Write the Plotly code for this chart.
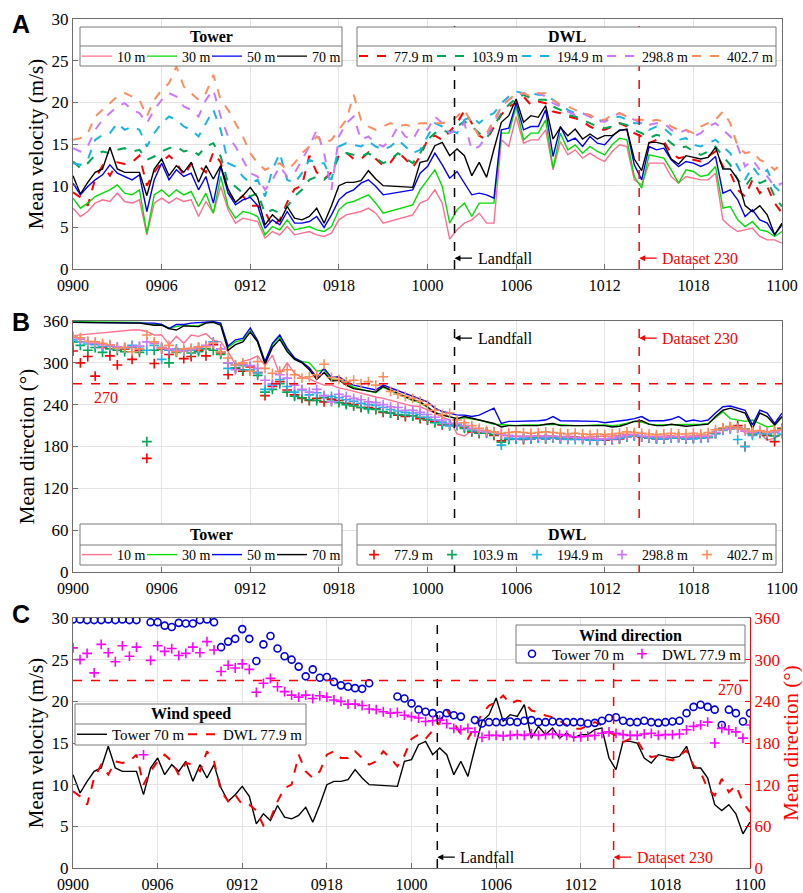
import plotly.graph_objects as go

SERIF = "Liberation Serif, Times New Roman, serif"
SANS = "Liberation Sans, Arial, sans-serif"
W, H = 803, 893

# Time axis: hours after 09 00:00, one value every 30 min (09 00:00 .. 11 00:00)
HOURS = [i * 0.5 for i in range(97)]
TICK_POS = [0, 6, 12, 18, 24, 30, 36, 42, 48]
TICK_TEXT = ["0900", "0906", "0912", "0918", "1000", "1006", "1012", "1018", "1100"]
LANDFALL_H = 25.83        # landfall time
DATASET_230_H = 38.33     # 10-min dataset no. 230

TOWER_LABELS = ["10 m", "30 m", "50 m", "70 m"]
DWL_LABELS = ["77.9 m", "103.9 m", "194.9 m", "298.8 m", "402.7 m"]
TOWER_COLORS = ["#ff6f8f", "#00dd00", "#0000ee", "#000000"]
DWL_COLORS = ["#ff0000", "#00a651", "#18b4e4", "#cc77ff", "#ff8c5a"]

# ---------------- mean velocity (m/s) ----------------
SPD_TOWER_10 = [
    7.3, 6.3, 6.9, 7.9, 8.3, 8.1, 9.1, 8.1, 7.9, 8.3, 4.1, 7.9,
    8.5, 7.9, 8.5, 8.1, 8.3, 6.3, 8.1, 6.7, 9.9, 7.1, 5.5, 6.1,
    5.9, 5.7, 3.7, 4.5, 4.1, 5.1, 4.1, 4.3, 4.5, 4.1, 3.9, 4.3,
    5.9, 6.5, 6.7, 6.9, 7.3, 6.7, 5.5, None, None, None, 6.5, 7.9,
    8.3, 9.5, 7.9, 3.6, 4.7, 5.5, 5.9, 6.7, 5.5, 5.5, 15.5, 14.7,
    18.3, 15.1, 15.5, 15.5, 16.7, 11.9, 15.3, 13.7, 14.3, 13.3, 13.9, 13.3,
    12.9, 14.1, 14.9, 14.7, 10.7, 10.1, 12.7, 12.7, 12.7, 11.1, 10.3, 11.1,
    10.9, 10.7, 10.7, 11.5, 5.9, 5.1, 4.5, 4.7, 4.9, 3.9, 3.5, 3.5, 3.1]
SPD_TOWER_30 = [
    8.5, 7.3, 7.9, 8.7, 9.1, 9.5, 10.1, 9.1, 8.9, 9.5, 4.3, 8.9,
    9.5, 8.7, 9.5, 8.9, 9.3, 7.5, 9.1, 6.7, 11.1, 7.5, 6.1, 6.9,
    6.7, 6.3, 4.1, 5.1, 4.7, 5.9, 4.7, 4.9, 5.1, 4.7, 4.5, 5.1,
    7.1, 7.9, 8.1, 8.5, 8.9, 7.9, 6.7, None, None, None, 7.7, 9.5,
    10.7, 11.9, 9.9, 5.5, 7.1, 7.9, 6.3, 7.9, 7.9, 7.9, 16.3, 16.3,
    19.5, 15.5, 16.3, 16.3, 17.9, 12.1, 16.3, 14.3, 14.9, 13.9, 14.7, 14.1,
    13.7, 14.9, 15.7, 15.5, 11.1, 9.7, 13.7, 13.5, 13.3, 11.9, 10.3, 11.9,
    11.7, 11.1, 11.3, 12.3, 7.3, 7.5, 5.9, 5.1, 5.7, 4.7, 4.5, 3.9, 4.5]
SPD_TOWER_50 = [
    10.3, 8.9, 9.9, 10.7, 11.3, 12.5, 11.5, 11.1, 10.7, 11.3, 6.9, 10.7,
    12.7, 10.7, 11.9, 11.1, 11.5, 9.5, 11.1, 7.9, 12.3, 9.1, 7.7, 8.3,
    8.6, 7.6, 4.9, 5.9, 5.3, 6.9, 5.5, 5.5, 5.7, 6.3, 5.0, 6.5,
    8.3, 9.1, 9.5, 10.3, 10.7, 9.9, 8.9, None, None, None, 9.5, 11.5,
    12.3, 13.9, 12.5, 10.9, 11.7, 10.3, 8.9, 9.1, 8.9, 8.5, 16.7, 16.9,
    19.9, 16.7, 17.1, 17.1, 19.1, 13.5, 17.1, 15.3, 15.7, 14.7, 15.9, 15.1,
    14.9, 15.9, 16.7, 16.7, 12.5, 10.7, 14.7, 14.3, 14.5, 13.1, 12.3, 12.9,
    12.7, 12.3, 12.7, 13.5, 9.1, 9.5, 8.3, 6.3, 7.1, 5.9, 5.5, 4.1, 5.3]
SPD_TOWER_70 = [
    11.2, 9.0, 10.4, 11.6, 12.0, 14.6, 12.0, 11.6, 11.6, 11.6, 8.8, 12.0,
    13.2, 11.2, 12.4, 11.6, 12.8, 10.4, 12.4, 10.8, 12.4, 9.6, 8.0, 8.8,
    9.8, 8.6, 5.3, 6.5, 5.7, 7.5, 6.1, 5.9, 6.3, 7.3, 5.5, 7.6,
    10.0, 10.4, 10.4, 10.6, 11.8, 10.8, 10.0, None, None, None, 9.8, 12.8,
    13.0, 14.8, 15.2, 13.6, 14.4, 13.6, 11.2, 12.8, 11.0, 14.4, 17.6, 18.4,
    20.4, 17.6, 18.4, 18.2, 19.6, 15.6, 17.0, 16.0, 16.8, 15.6, 16.2, 15.6,
    16.0, 16.0, 16.6, 16.8, 13.2, 11.8, 15.2, 15.2, 15.0, 13.2, 12.6, 13.6,
    13.4, 13.2, 13.4, 14.6, 12.0, 12.0, 10.8, 7.6, 6.9, 7.6, 6.5, 4.1, 5.5]

SPD_DWL_78 = [
    9.2, 8.6, 7.6, 10.8, 12.4, 11.2, 12.8, 12.6, 12.8, 13.6, 10.0, 11.6,
    12.8, 13.6, 12.8, 11.2, 12.6, 12.4, 11.6, 14.0, 12.8, 9.2, 8.0, 8.8,
    7.6, 7.6, 6.9, 5.1, 5.9, 8.0, 9.6, 10.0, 13.6, 11.6, 10.8, 11.6,
    13.6, 14.0, 13.2, 13.2, 14.0, 13.2, 12.4, 12.8, 14.0, 13.2, 12.2, 13.5,
    15.5, 16.0, 15.5, 16.5, 17.5, 19.0, 17.5, 16.0, 15.5, 17.0, 18.5, 19.5,
    19.9, 20.7, 19.7, 20.1, 19.9, 18.9, 18.7, 18.3, 18.1, 17.7, 17.1, 16.7,
    16.7, 17.1, 17.5, 17.1, 16.3, 15.9, 15.1, 15.5, 15.3, 13.9, 13.3, 13.5,
    13.1, 12.9, 13.5, 14.1, 12.3, 11.5, 9.5, 8.7, 10.7, 9.1, 9.9, 7.9, 6.7]
SPD_DWL_104 = [
    12.9, 12.1, 12.7, 13.7, 14.1, 13.9, 14.3, 14.5, 14.1, 14.3, 13.1, 13.5,
    14.1, 14.5, 14.7, 14.1, 14.3, 13.7, 14.7, 15.1, 13.5, 10.3, 9.9, 9.1,
    8.7, 9.1, 6.7, 7.1, 6.7, 7.5, 8.7, 9.5, 10.7, 11.1, 10.7, 11.5,
    13.5, 13.9, 13.7, 13.5, 13.9, 13.3, 12.7, 13.1, 13.9, 13.3, 12.7, 13.9,
    15.5, 16.3, 16.7, 16.3, 17.1, 17.7, 17.1, 16.3, 15.7, 17.1, 18.7, 19.7,
    20.5, 20.9, 20.5, 20.3, 20.3, 19.5, 19.1, 18.5, 18.3, 17.9, 17.5, 17.1,
    16.9, 17.1, 17.5, 17.3, 16.7, 16.3, 15.7, 16.1, 15.9, 15.1, 14.5, 14.7,
    14.1, 13.7, 14.1, 14.7, 13.5, 12.5, 10.7, 9.9, 11.1, 10.3, 10.7, 8.7, 7.5]
SPD_DWL_195 = [
    12.7, 12.5, 13.1, 15.5, 16.1, 16.3, 17.5, 16.7, 17.1, 16.7, 14.7, 16.3,
    17.5, 18.3, 17.9, 17.1, 16.7, 15.9, 17.5, 19.1, 16.7, 12.7, 12.3, 11.1,
    10.3, 10.7, 8.7, 11.9, 13.9, 10.7, 10.3, 11.5, 13.1, 12.7, 12.7, 10.7,
    14.7, 15.1, 14.9, 14.7, 15.3, 14.7, 14.3, 14.7, 15.5, 14.7, 13.9, 14.3,
    15.9, 17.5, 17.1, 16.7, 16.3, 17.9, 18.3, 17.5, 18.3, 18.7, 19.9, 20.7,
    21.3, 21.1, 21.1, 20.9, 20.9, 20.3, 19.7, 19.1, 18.7, 18.7, 18.3, 17.9,
    17.7, 18.1, 18.3, 17.9, 17.5, 17.5, 16.7, 17.1, 16.9, 16.1, 15.5, 15.7,
    14.9, 14.7, 15.1, 15.5, 14.7, 13.9, 12.3, 10.7, 12.3, 11.1, 11.9, 9.9, 9.1]
SPD_DWL_299 = [
    14.5, 14.1, 14.7, 16.7, 17.9, 18.7, 19.5, 19.9, 19.1, 18.7, 17.5, 19.1,
    20.3, 21.1, 20.7, 19.5, 19.1, 18.3, 20.3, 21.5, 18.3, 15.9, 14.7, 13.1,
    11.5, 11.1, 9.5, 10.7, 12.3, 11.1, 11.5, 13.1, 14.7, 16.7, 13.9, 9.5,
    15.9, 17.5, 18.3, 15.5, 15.9, 15.1, 14.7, 15.5, 17.1, 15.9, 15.5, 17.1,
    16.7, 18.3, 17.5, 16.3, 16.7, 17.5, 14.3, 14.7, 15.9, 17.5, 19.5, 20.3,
    20.9, 21.1, 20.7, 21.1, 20.7, 19.9, 19.5, 18.9, 18.5, 18.7, 18.3, 17.7,
    17.7, 18.3, 18.7, 18.3, 17.9, 17.5, 17.3, 17.5, 17.5, 16.7, 16.3, 16.7,
    15.9, 16.3, 17.1, 17.5, 16.7, 15.9, 14.7, 12.3, 13.1, 11.9, 11.1, 9.9, 10.3]
SPD_DWL_403 = [
    15.5, 15.7, 16.3, 18.3, 19.1, 19.9, 20.7, 21.1, 20.7, 20.3, 18.3, 20.3,
    21.5, 22.3, 24.3, 21.9, 21.1, 20.3, 21.1, 23.3, 20.3, 19.1, 17.5, 15.9,
    13.9, 12.7, 11.9, 12.3, 12.7, 11.9, 12.7, 13.9, 14.7, 15.9, 15.1, 15.5,
    16.7, 17.9, 20.9, 17.9, 17.1, 16.7, 17.1, 17.5, 17.1, 17.3, 17.1, 17.5,
    17.5, 17.5, 17.5, 17.7, 18.3, 19.1, 17.5, 15.9, 16.3, 17.9, 19.5, 20.3,
    21.1, 21.1, 20.7, 21.1, 21.1, 20.3, 19.7, 19.5, 19.1, 18.7, 18.5, 17.9,
    17.9, 18.5, 18.7, 18.3, 17.9, 17.9, 17.7, 17.9, 17.7, 17.1, 16.7, 16.7,
    16.3, 17.1, 17.5, 17.9, 18.9, 17.5, 14.7, 13.9, 14.1, 13.1, 12.7, 11.9, 12.7]

# ---------------- mean direction (deg) ----------------
DIR_TOWER_10 = [
    339, 340, 342, 343, 344, 345, 346, 346, 347, 347, 345, 340,
    340, 326, 338, 328, 340, 338, 342, 332, 330, 316, 297, 302,
    305, 310, 296, 311, 283, 300, 285, 279, 277, 272, 268, 268,
    264, 262, 259, 256, 254, 251, 249, None, None, None, 238, 237,
    233, 228, 222, 218, 198, 195, 203, 200, None, 201, 196, 195,
    194, 195, 194, 195, 196, 195, 194, 195, 194, 193, 194, 194,
    194, 195, 196, 198, 197, 194, 195, 194, 195, 196, 194, 195,
    195, 196, 197, 204, 206, 208, 207, 200, 196, 199, 189, 192, 198]
DIR_TOWER_30 = [
    359, 359, 358, 358, 358, 358, 358, 358, 358, 358, 356, 355,
    355, 350, 352, 354, 353, 353, 358, 359, 356, 322, 330, 333,
    346, 330, 300, 326, 338, 318, 306, 302, 300, 288, 290, 276,
    276, 270, 265, 262, 260, 257, 265, None, None, None, 246, 243,
    236, 229, 225, 222, 220, 221, 219, 218, None, 212, 211, 210,
    210, 211, 211, 210, 211, 212, 211, 211, 210, 210, 211, 211,
    211, 210, 211, 213, 216, 215, 212, 211, 211, 212, 211, 211,
    211, 212, 213, 222, 230, 220, 218, 216, 218, 213, 208, 210, 222]
DIR_TOWER_50 = [
    358, 358, 358, 358, 358, 358, 358, 358, 358, 358, 357, 357,
    355, 349, 355, 355, 357, 358, 359, 359, 357, 324, 333, 335,
    350, 332, 302, 328, 340, 321, 307, 301, 293, 279, 292, 279,
    280, 273, 268, 266, 263, 261, 268, None, None, None, 252, 249,
    244, 235, 230, 228, 225, 225, 223, 225, None, 235, 213, 216,
    216, 216, 217, 217, 218, 223, 217, 217, 217, 217, 216, 216,
    214, 215, 217, 218, 220, 223, 217, 217, 217, 219, 223, 216,
    218, 216, 218, 228, 237, 238, 235, 232, 211, 232, 228, 213, 228]
DIR_TOWER_70 = [
    358, 358, 357, 357, 357, 358, 357, 358, 357, 357, None, 354,
    354, 349, 347, 353, 352, 352, 357, 358, 354, 318, 326, 330,
    344, 330, 298, 322, 334, 316, 305, 300, 290, 276, 286, 274,
    275, 268, 263, 261, 259, 258, 266, None, None, None, 247, 244,
    237, 228, 225, 223, 220, 223, 220, 218, None, 213, 208, 210,
    210, 210, 211, 210, 212, 213, 210, 210, 211, 210, 210, 210,
    210, 208, 209, 212, 216, 217, 212, 210, 210, 212, 210, 209,
    210, 211, 212, 223, 232, 235, 232, 228, 206, 228, 223, 211, 223]

DIR_DWL_78 = [
    317, 300, 309, 281, 322, 310, 297, 320, 305, 318, 163, 299,
    320, 312, 316, 306, 309, 318, 310, 326, 314, 283, 292, 288,
    294, 286, 253, 266, 273, 261, 254, 249, 246, 249, 244, 248,
    246, 242, 240, 236, 236, 234, 229, 228, 225, 223, 224, 220,
    218, 216, 211, 212, 213, 208, 201, 199, 201, 196, 188, 191,
    191, 190, 191, 192, 191, 193, 191, 192, 193, 192, 191, 189,
    189, 190, 191, 194, 196, 194, 192, 191, 191, 193, 194, 191,
    192, 192, 193, 199, 204, 206, 210, 180, 201, 199, 196, 187, 206]
DIR_DWL_104 = [
    330, 325, 318, 322, 315, 320, 318, 316, 322, 315, 187, 318,
    322, 300, 315, 318, 314, 316, 320, 318, 312, 300, 293, 290,
    288, 282, 258, 262, 270, 258, 252, 250, 247, 246, 250, 245,
    243, 240, 238, 236, 234, 233, 230, 228, 226, 225, 224, 222,
    219, 214, 212, 210, 210, 206, 202, 199, 199, 197, 186, 190,
    191, 191, 192, 193, 192, 193, 192, 192, 193, 191, 191, 190,
    190, 191, 192, 195, 196, 194, 193, 192, 192, 193, 193, 192,
    193, 193, 194, 199, 206, 208, 207, 205, 198, 200, 197, 195, 205]
DIR_DWL_195 = [
    333, 330, 327, 326, 323, 324, 322, 321, 325, 323, 318, 325,
    305, 318, 320, 317, 318, 321, 324, 330, 316, 292, 297, 296,
    290, 286, 262, 268, 276, 266, 258, 261, 254, 257, 253, 252,
    250, 247, 245, 242, 240, 239, 236, 233, 231, 229, 228, 226,
    222, 218, 215, 210, 212, 209, 205, 203, 200, 201, 182, 192,
    191, 192, 191, 192, 191, 192, 191, 190, 190, 190, 189, 189,
    190, 191, 192, 194, 195, 194, 192, 191, 191, 192, 192, 191,
    191, 192, 193, 198, 203, 205, 190, 180, 196, 199, 198, 200, 198]
DIR_DWL_299 = [
    336, 334, 330, 328, 326, 325, 323, 322, 323, 324, 330, 328,
    322, 320, 318, 317, 320, 322, 325, 328, 320, 300, 290, 298,
    296, 292, 275, 270, 283, 278, 268, 262, 258, 262, 253, 244,
    255, 252, 249, 247, 244, 243, 240, 237, 236, 232, 232, 229,
    226, 222, 218, 213, 213, 210, 206, 203, 201, 201, 198, 196,
    195, 194, 195, 195, 194, 195, 194, 193, 193, 192, 192, 191,
    191, 192, 194, 196, 197, 195, 194, 194, 193, 194, 194, 193,
    194, 194, 195, 200, 204, 206, 206, 202, 200, 202, 200, 201, 203]
DIR_DWL_403 = [
    338, 336, 331, 330, 328, 326, 321, 322, 316, 320, 340, 330,
    321, 325, 316, 320, 321, 323, 323, 328, 316, 307, 297, 300,
    288, 302, 292, 285, 288, 290, 283, 278, 280, 283, 298, 279,
    276, 273, 275, 270, 273, 268, 280, 259, 255, 252, 249, 245,
    240, 232, 226, 228, 218, 214, 210, 206, 203, 201, 199, 200,
    201, 200, 199, 200, 201, 200, 199, 198, 199, 198, 197, 198,
    197, 198, 199, 201, 200, 199, 198, 197, 198, 199, 198, 198,
    199, 198, 200, 204, 207, 209, 206, 205, 202, 203, 201, 203, 204]

SPD_TOWER = [SPD_TOWER_10, SPD_TOWER_30, SPD_TOWER_50, SPD_TOWER_70]
SPD_DWL = [SPD_DWL_78, SPD_DWL_104, SPD_DWL_195, SPD_DWL_299, SPD_DWL_403]
DIR_TOWER = [DIR_TOWER_10, DIR_TOWER_30, DIR_TOWER_50, DIR_TOWER_70]
DIR_DWL = [DIR_DWL_78, DIR_DWL_104, DIR_DWL_195, DIR_DWL_299, DIR_DWL_403]


def px(x):
    return x / W


def py(y):
    return 1 - y / H


# Each legend entry gets its own one-item legend so the boxed legends can be laid
# out as a single row: (left edge px, row centre px, font size)
ROW_A, ROW_B, ROW_CS, ROW_CD = 56.5, 555, 734.5, 654
A_TOWER_LEFT = [77, 142, 207, 272]
A_DWL_LEFT = [354, 432, 517, 602, 687]
C_SPEED_LEFT = [72, 183]
C_DIR_LEFT = [512, 622]

legend_layout = {}
_legend_count = [0]


def new_legend(left, row, size):
    _legend_count[0] += 1
    n = _legend_count[0]
    key = "legend" if n == 1 else "legend%d" % n
    legend_layout[key] = dict(orientation="h", x=px(left), y=py(row), xanchor="left",
                              yanchor="middle", bgcolor="rgba(0,0,0,0)", borderwidth=0,
                              itemwidth=30,
                              font=dict(family=SERIF, size=size, color="black"))
    return key


fig = go.Figure()

# ---- Panel A: mean velocity ----
dwl_a_keys = [new_legend(x, ROW_A, 14) for x in A_DWL_LEFT]
tower_a_keys = [new_legend(x, ROW_A, 14) for x in A_TOWER_LEFT]
for vals, name, col, key in zip(SPD_DWL, DWL_LABELS, DWL_COLORS, dwl_a_keys):
    fig.add_trace(go.Scatter(x=HOURS, y=vals, name=name, mode="lines",
                             line=dict(color=col, width=2, dash="dash"),
                             xaxis="x", yaxis="y", legend=key))
for vals, name, col, key in zip(SPD_TOWER, TOWER_LABELS, TOWER_COLORS, tower_a_keys):
    fig.add_trace(go.Scatter(x=HOURS, y=vals, name=name, mode="lines",
                             connectgaps=True, line=dict(color=col, width=1.4),
                             xaxis="x", yaxis="y", legend=key))

# ---- Panel B: mean direction ----
tower_b_keys = [new_legend(x, ROW_B, 14) for x in A_TOWER_LEFT]
dwl_b_keys = [new_legend(x, ROW_B, 14) for x in A_DWL_LEFT]
for vals, name, col, key in zip(DIR_TOWER, TOWER_LABELS, TOWER_COLORS, tower_b_keys):
    fig.add_trace(go.Scatter(x=HOURS, y=vals, name=name, mode="lines",
                             connectgaps=True, line=dict(color=col, width=1.4),
                             xaxis="x2", yaxis="y2", legend=key))
for vals, name, col, key in zip(DIR_DWL, DWL_LABELS, DWL_COLORS, dwl_b_keys):
    fig.add_trace(go.Scatter(x=HOURS, y=vals, name=name, mode="markers",
                             marker=dict(symbol="cross-thin-open", size=7, color=col,
                                         line=dict(color=col, width=1.6)),
                             xaxis="x2", yaxis="y2", legend=key))

# ---- Panel C: 70 m tower vs 77.9 m DWL ----
cs_keys = [new_legend(x, ROW_CS, 15) for x in C_SPEED_LEFT]
cd_keys = [new_legend(x, ROW_CD, 15) for x in C_DIR_LEFT]
fig.add_trace(go.Scatter(x=HOURS, y=SPD_TOWER_70, name="Tower 70 m", mode="lines",
                         connectgaps=True, line=dict(color="black", width=1.4),
                         xaxis="x3", yaxis="y3", legend=cs_keys[0]))
fig.add_trace(go.Scatter(x=HOURS, y=SPD_DWL_78, name="DWL 77.9 m", mode="lines",
                         line=dict(color="#ff0000", width=2, dash="dash"),
                         xaxis="x3", yaxis="y3", legend=cs_keys[1]))
fig.add_trace(go.Scatter(x=HOURS, y=DIR_TOWER_70, name="Tower 70 m", mode="markers",
                         marker=dict(symbol="circle-open", size=7, color="#0000dd",
                                     line=dict(color="#0000dd", width=1.6)),
                         xaxis="x3", yaxis="y4", legend=cd_keys[0]))
fig.add_trace(go.Scatter(x=HOURS, y=DIR_DWL_78, name="DWL 77.9 m", mode="markers",
                         marker=dict(symbol="cross-thin-open", size=7, color="#ff00ff",
                                     line=dict(color="#ff00ff", width=1.6)),
                         xaxis="x3", yaxis="y4", legend=cd_keys[1]))

# ---- axes ----
TICKFONT = dict(family=SERIF, size=17, color="black")
XTICKFONT = dict(family=SERIF, size=16, color="black")
TITLEFONT = dict(family=SERIF, size=21, color="black")


def xaxis(domain, anchor):
    return dict(domain=domain, anchor=anchor, range=[0, 48], tickvals=TICK_POS,
                ticktext=TICK_TEXT, showline=True, linecolor="#6e6e6e", linewidth=1,
                mirror=True, ticks="inside", ticklen=5, tickcolor="#6e6e6e",
                showgrid=True, gridcolor="#e3e3e3", zeroline=False,
                tickfont=XTICKFONT, ticklabelstandoff=2, automargin=False)


def yaxis(domain, anchor, rng, dtick, title, mirror=True):
    return dict(domain=domain, anchor=anchor, range=rng, dtick=dtick, tick0=0,
                showline=True, linecolor="#6e6e6e", linewidth=1, mirror=mirror,
                ticks="inside", ticklen=5, tickcolor="#6e6e6e", showgrid=True,
                gridcolor="#e3e3e3", zeroline=False, tickfont=TICKFONT,
                title=dict(text=title, font=TITLEFONT, standoff=2), automargin=False)


XA = [px(73), px(782)]
XC = [px(73), px(750)]
fig.update_layout(
    xaxis=xaxis(XA, "y"),
    yaxis=yaxis([py(269), py(19)], "x", [0, 30], 5, "Mean velocity (m/s)"),
    xaxis2=xaxis(XA, "y2"),
    yaxis2=yaxis([py(572), py(321)], "x2", [0, 360], 60, "Mean direction (°)"),
    xaxis3=xaxis(XC, "y3"),
    yaxis3=yaxis([py(868), py(618)], "x3", [0, 30], 5, "Mean velocity (m/s)", mirror=False),
    yaxis4=dict(overlaying="y3", side="right", anchor="x3", range=[0, 360], dtick=60,
                tick0=0, showline=True, linecolor="#ff0000", linewidth=1,
                ticks="inside", ticklen=5, tickcolor="#ff0000", showgrid=False,
                zeroline=False, tickfont=dict(family=SERIF, size=17, color="#ff0000"),
                title=dict(text="Mean direction (°)",
                           font=dict(family=SERIF, size=21, color="#ff0000"), standoff=12),
                automargin=False),
)

# ---- event markers ----
shapes = []
annotations = []
for xr, yr in (("x", "y"), ("x2", "y2"), ("x3", "y3")):
    shapes.append(dict(type="line", xref=xr, yref=yr + " domain", x0=LANDFALL_H, x1=LANDFALL_H,
                       y0=0, y1=1, line=dict(color="black", width=1.5, dash="dash")))
    shapes.append(dict(type="line", xref=xr, yref=yr + " domain", x0=DATASET_230_H,
                       x1=DATASET_230_H, y0=0, y1=1,
                       line=dict(color="#ff0000", width=1.5, dash="dash")))
shapes.append(dict(type="line", xref="x2 domain", yref="y2", x0=0, x1=1, y0=270, y1=270,
                   line=dict(color="#ff0000", width=1.5, dash="dash")))
shapes.append(dict(type="line", xref="x3 domain", yref="y4", x0=0, x1=1, y0=270, y1=270,
                   line=dict(color="#ff0000", width=1.5, dash="dash")))

EVENT_LABEL_LEVEL = [("x", "y", 1.3), ("x2", "y2", 335.5), ("x3", "y3", 1.3)]
for xr, yr, lev in EVENT_LABEL_LEVEL:
    for xv, txt, col in ((LANDFALL_H, "Landfall", "black"),
                         (DATASET_230_H, "Dataset 230", "#ff0000")):
        annotations.append(dict(x=xv, y=lev, xref=xr, yref=yr, text="", showarrow=True,
                                ax=19, ay=0, arrowhead=2, arrowsize=1, arrowwidth=1.2,
                                arrowcolor=col))
        annotations.append(dict(x=xv, y=lev, xref=xr, yref=yr, text=txt, showarrow=False,
                                xanchor="left", yanchor="middle", xshift=21,
                                font=dict(family=SERIF, size=16, color=col)))

annotations.append(dict(x=2.2, y=251, xref="x2", yref="y2", text="270", showarrow=False,
                        xanchor="center", yanchor="middle",
                        font=dict(family=SERIF, size=16, color="#ff0000")))
annotations.append(dict(x=46.6, y=257, xref="x3", yref="y4", text="270", showarrow=False,
                        xanchor="center", yanchor="middle",
                        font=dict(family=SERIF, size=16, color="#ff0000")))

for letter, yy in (("A", 24), ("B", 322), ("C", 614)):
    annotations.append(dict(x=px(21), y=py(yy), xref="paper", yref="paper",
                            text="<b>%s</b>" % letter, showarrow=False,
                            xanchor="center", yanchor="middle",
                            font=dict(family=SANS, size=25, color="black")))

# ---- legend frames: title row + entry row ----
LEGEND_BOXES = [
    ("Tower", 80, 342, 27, 46, 66),
    ("DWL", 357, 776, 27, 46, 66),
    ("Tower", 80, 342, 524, 545, 565),
    ("DWL", 357, 776, 524, 545, 565),
    ("Wind speed", 75, 306, 704, 724, 745),
    ("Wind direction", 516, 745, 625, 645, 663),
]
for title, x0, x1, y0, ym, y1 in LEGEND_BOXES:
    shapes.append(dict(type="rect", xref="paper", yref="paper", x0=px(x0), x1=px(x1),
                       y0=py(y1), y1=py(y0), fillcolor="white",
                       line=dict(color="#7a7a7a", width=1), layer="above"))
    shapes.append(dict(type="line", xref="paper", yref="paper", x0=px(x0), x1=px(x1),
                       y0=py(ym), y1=py(ym), line=dict(color="#7a7a7a", width=1),
                       layer="above"))
    annotations.append(dict(x=px((x0 + x1) / 2), y=py((y0 + ym) / 2), xref="paper",
                            yref="paper", text="<b>%s</b>" % title, showarrow=False,
                            xanchor="center", yanchor="middle",
                            font=dict(family=SERIF, size=16, color="black")))

fig.update_layout(
    width=W, height=H, margin=dict(l=0, r=0, t=0, b=0),
    plot_bgcolor="white", paper_bgcolor="white",
    font=dict(family=SERIF, size=16, color="black"),
    shapes=shapes, annotations=annotations, showlegend=True,
    **legend_layout,
)

fig.write_html("out.html")
